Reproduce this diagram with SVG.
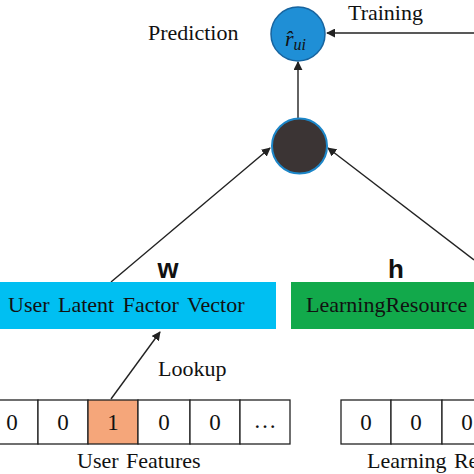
<svg xmlns="http://www.w3.org/2000/svg" width="474" height="474" viewBox="0 0 474 474">
<defs>
<style>
.serif{font-family:"Liberation Serif","Times New Roman",serif;fill:#111;}
.lbl{font-size:22px;}
.bold{font-family:"Liberation Sans",Arial,sans-serif;font-weight:bold;fill:#111;}
.cell{fill:#fff;stroke:#222;stroke-width:1.3;}
.edge{stroke:#222;stroke-width:1.4;fill:none;marker-end:url(#ah);}
</style>
<marker id="ah" viewBox="0 0 10 10" refX="9" refY="5" markerWidth="9" markerHeight="9" markerUnits="userSpaceOnUse" orient="auto">
<path d="M0,0 L10,5 L0,10 z" fill="#222"/>
</marker>
</defs>
<rect width="474" height="474" fill="#fff"/>
<g id="connectors">
<line class="edge" x1="474" y1="33" x2="327" y2="33"/>
<line class="edge" x1="298" y1="118" x2="298" y2="62"/>
<line class="edge" x1="111" y1="282" x2="270" y2="148"/>
<line class="edge" x1="474" y1="260" x2="328" y2="148"/>
<line class="edge" x1="111" y1="399" x2="160" y2="332"/>
</g>
<g id="prediction">
<circle cx="298" cy="34" r="27" fill="#1f8fd6" stroke="#17649f" stroke-width="1.5"/>
<text class="serif" x="285" y="46" font-size="22" font-style="italic">r̂<tspan font-size="16" dy="4">ui</tspan></text>
<text class="serif lbl" x="148" y="40">Prediction</text>
</g>
<g id="training-label"><text class="serif lbl" x="348" y="20">Training</text></g>
<g id="dot">
<circle cx="299.5" cy="146" r="27.5" fill="#3b3434" stroke="#1c86c8" stroke-width="2"/>
</g>
<g id="user-vector">
<rect x="0" y="282" width="276" height="47" fill="#00bff2"/>
<text class="serif lbl" x="8" y="312" word-spacing="3">User Latent Factor Vector</text>
<text class="bold" x="168" y="278" font-size="27" text-anchor="middle">w</text>
</g>
<g id="resource-vector">
<rect x="291" y="282" width="183" height="47" fill="#12a94b"/>
<text class="serif lbl" x="306" y="312">LearningResource</text>
<text class="bold" x="396" y="278" font-size="26" text-anchor="middle">h</text>
</g>
<g id="lookup-label"><text class="serif lbl" x="158" y="376">Lookup</text></g>
<g id="user-features">
<rect class="cell" x="-2" y="400" width="40" height="44"/>
<rect class="cell" x="38" y="400" width="50" height="44"/>
<rect x="88" y="400" width="50" height="44" fill="#f5a67a" stroke="#222" stroke-width="1.3"/>
<rect class="cell" x="138" y="400" width="52" height="44"/>
<rect class="cell" x="190" y="400" width="50" height="44"/>
<rect class="cell" x="240" y="400" width="50" height="44"/>
<g class="serif" font-size="23" text-anchor="middle">
<text x="12" y="430">0</text>
<text x="63" y="430">0</text>
<text x="113" y="430">1</text>
<text x="164" y="430">0</text>
<text x="215" y="430">0</text>
<text x="265" y="428">…</text>
</g>
<text class="serif lbl" x="77" y="468" word-spacing="2">User Features</text>
</g>
<g id="resource-features">
<rect class="cell" x="341" y="400" width="50" height="44"/>
<rect class="cell" x="391" y="400" width="51" height="44"/>
<rect class="cell" x="442" y="400" width="50" height="44"/>
<g class="serif" font-size="23" text-anchor="middle">
<text x="366" y="430">0</text>
<text x="416" y="430">0</text>
<text x="467" y="430">0</text>
</g>
<text class="serif lbl" x="367" y="468" word-spacing="2">Learning Re</text>
</g>
</svg>
